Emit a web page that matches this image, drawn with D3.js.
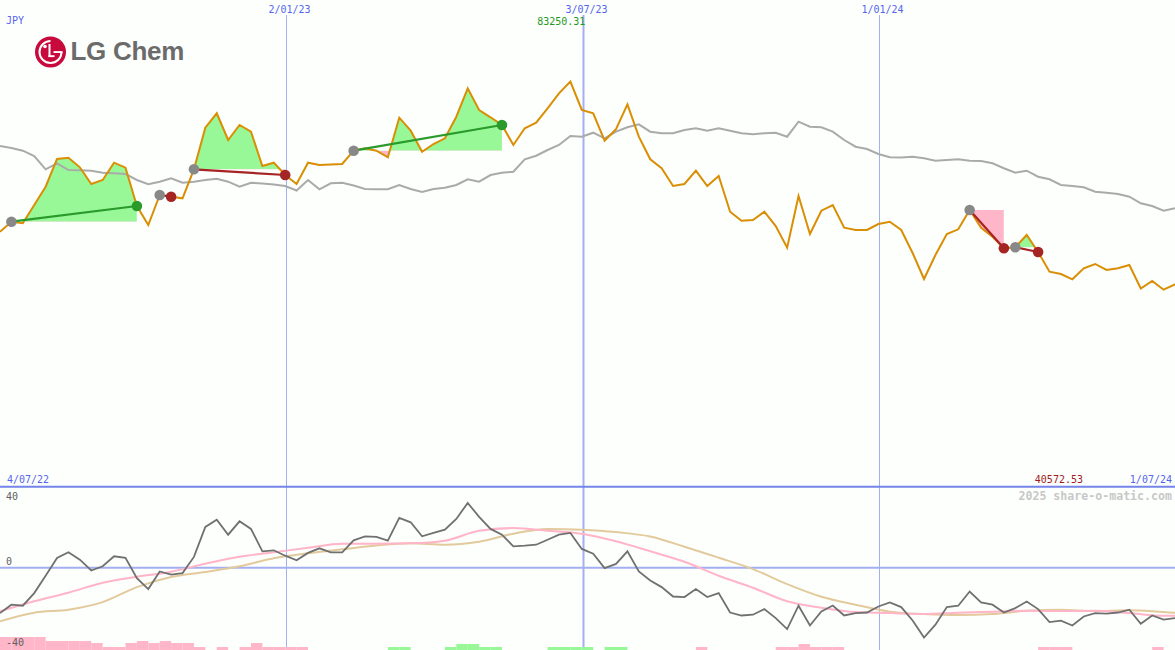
<!DOCTYPE html>
<html><head><meta charset="utf-8">
<script src="https://cdn.jsdelivr.net/npm/d3@7"></script>
<style>body{margin:0;background:#fdfffd}svg{display:block}</style>
</head><body><svg id="c" width="1175" height="650"></svg>
<script>
// ---------- data ----------
const startDate = "2022-07-11"; // first weekly point
const currency = "JPY";
const company = "LG Chem";
const watermark = "2025 share-o-matic.com";
const periodStartLabel = "4/07/22";
const periodEndLabel = "1/07/24";
const gridDates = ["2023-01-02", "2023-07-03", "2024-01-01"];
const gridLabels = ["2/01/23", "3/07/23", "1/01/24"];
const oscTicks = [40, 0, -40];

const prices = [52470, 54520, 54200, 57950, 61700, 67390, 67650, 65680, 62260, 63080,
 66630, 65600, 57740, 53850, 60000, 59650, 59320, 65270, 73810, 76760,
 71280, 74360, 72990, 65950, 66630, 64100, 62260, 66630, 66150, 66260,
 66360, 69090, 69580, 69090, 67730, 75860, 73190, 68880, 70460, 71630,
 76060, 81890, 77440, 75940, 74360, 70260, 73680, 74830, 77790, 80860,
 83250.31, 77440, 76760, 71140, 73480, 78600, 71960, 67320, 65480, 61850,
 62260, 64990, 61850, 63900, 56570, 54730, 54870, 56570, 53640, 49190,
 59800, 52000, 56780, 57950, 53290, 52820, 52820, 54050, 54520, 52820,
 48100, 42770, 47690, 52000, 52960, 56920, 53290, 51450, 49070, 49270,
 51800, 48310, 44270, 43800, 42710, 44960, 45850, 44620, 44960, 45640,
 40820, 42360, 40572.53, 41680];

const movingAvg = [70050, 69640, 69090, 68000, 65270, 66500, 65130, 65070, 64990, 64570,
 64450, 64310, 63080, 62200, 62730, 63430, 62520, 62730, 63080, 63340,
 62730, 61700, 62520, 62360, 62150, 61850, 60920, 63080, 61170, 62400,
 62520, 61950, 61230, 61190, 61170, 62050, 61230, 60620, 61230, 61500,
 62050, 63220, 62730, 64100, 64570, 64780, 67320, 68060, 69230, 70260,
 72100, 71960, 72780, 71630, 72990, 73890, 74500, 72990, 72660, 72660,
 73330, 73680, 73190, 73680, 73190, 72660, 72450, 72660, 72780, 71960,
 75040, 74010, 73890, 72990, 71280, 69910, 69440, 68410, 67730, 67690,
 67860, 67530, 67040, 67180, 67320, 67040, 66970, 66500, 65480, 64570,
 64990, 63750, 63220, 62050, 61850, 61580, 60680, 60470, 60210, 59650,
 58300, 57740, 56780, 57270];

// trades: [start week index, end week index]
const tradeStarts = [1, 14, 17, 31, 85, 89];
const tradeEnds = [12, 15, 25, 44, 88, 91];

// lower panel oscillator
const osc = [-22.7, -18.5, -19, -12.7, -4, 4.9, 7.7, 4, -1.4, 0.7,
 5.7, 4.9, -5.2, -10.7, -1.9, -3.5, -2.7, 5.4, 20.4, 24,
 16.5, 23.2, 19.4, 8.2, 8.7, 6, 3.7, 7.4, 9.7, 7.7,
 7.7, 13.7, 15.7, 15.4, 13.5, 24.9, 22.7, 15.7, 17.4, 19,
 24.4, 32.4, 25.4, 19.4, 16.5, 10.7, 11, 11.5, 14, 16.5,
 17.4, 9.4, 7, -0.2, 1.9, 8.2, -1.9, -6.4, -9.7, -14.4,
 -14.7, -10.7, -14.7, -12.7, -22.4, -23.9, -23.5, -20.7, -25.2, -30.7,
 -19, -28.9, -21.9, -18.9, -23.9, -22.7, -22.4, -19.4, -17.4, -19.7,
 -26.4, -34.9, -28.5, -19.7, -19, -11.9, -17.4, -18.5, -22.4, -20.2,
 -16.9, -20.7, -27.2, -26.5, -28.9, -24.4, -22.7, -23, -22.4, -21,
 -28, -23.9, -26, -25.2];

const signalIdx = [0,3,6,9,12,15,18,21,24,27,30,33,36,39,42,45,48,51,54,57,60,63,66,69,72,75,78,81,84,87,90,93,96,99,102,103];
const signalFast = [-21.8,-16.8,-12.5,-7.5,-4.5,-2,2,5.5,7.7,10,12,12,12.2,13.5,18.5,19.8,18.5,17,13.2,8.2,3,-4,-10,-16.8,-20,-22.2,-22.7,-23.2,-22.5,-22,-21.5,-21.7,-21.5,-22.7,-24,-24];
const signalSlow = [-26.8,-22.5,-21,-17.2,-9.7,-4.7,-2.2,0.7,4.7,7.2,9.2,11.1,12.2,11.5,13,17,19.4,19,17.8,15.6,10.5,5,-0.7,-8.2,-14.5,-18.5,-22,-23.2,-23.7,-23.2,-21.5,-21,-21.7,-21.3,-22.2,-22.5];

const histogram = [-6.5,-6.5,-6.5,-6.5,-4.5,-4.5,-4.5,-4.5,-3.5,-1.5,
 -1.5,-3.5,-4.5,-3.5,-4.5,-3.5,-3.5,-1.5,0,-1.5,
 0,-1.5,-3.5,-1.5,-1.5,-1.5,-1.5,0,0,0,
 0,0,0,0,1.5,1.5,0,0,0,1.5,
 3,3,1.5,1.5,0,0,0,0,1.5,1.5,
 1.5,1.5,0,1.5,1.5,0,0,0,0,0,
 0,-1.5,0,0,0,0,0,0,-1.5,-1.5,
 -3,-1.5,-1.5,-1.5,0,0,0,0,0,0,
 0,0,0,0,0,0,0,0,0,0,
 0,-1.5,-1.5,-1.5,0,0,0,0,0,0,
 0,-1.5,0,0];

// ---------- chart ----------
const W = 1175, H = 650;
const svg = d3.select("#c");
const defs = svg.append("defs");
const parse = d3.timeParse("%Y-%m-%d");
const t0 = parse(startDate);
const dates = prices.map((_, i) => d3.timeDay.offset(t0, 7 * i));
const x = d3.scaleTime().domain([dates[0], dates[dates.length - 1]]).range([0, W]);
const y = d3.scaleLinear().domain([0, 100000]).range([487.5, 0]);
const yLow = d3.scaleLinear().domain([-40, 40]).range([647.7, 487.7]);
const X = i => x(dates[i]);

svg.append("rect").attr("width", W).attr("height", H).attr("fill", "#fdfffd");

// vertical grid lines
gridDates.forEach((d, k) => {
  const gx = Math.round(x(parse(d))) + 1.5;
  svg.append("line").attr("x1", gx).attr("x2", gx).attr("y1", 15).attr("y2", H)
    .attr("stroke", "#a3aff0").attr("stroke-width", k === 1 ? 2 : 1);
  svg.append("text").attr("x", gx + 3).attr("y", 13).attr("text-anchor", "middle")
    .attr("font-family", "DejaVu Sans Mono, monospace").attr("font-size", 10)
    .attr("fill", "#5566ee").text(gridLabels[k]);
});

// trade fills
const area = d3.area().x(i => X(i)).y1(i => y(prices[i]));
tradeStarts.forEach((s, k) => {
  const e = tradeEnds[k];
  const lvl = y(prices[s]);
  const pts = d3.range(s, e + 1);
  const x0 = X(s), x1 = X(e);
  defs.append("clipPath").attr("id", "up" + k).append("rect")
    .attr("x", x0).attr("y", 0).attr("width", x1 - x0).attr("height", lvl);
  defs.append("clipPath").attr("id", "dn" + k).append("rect")
    .attr("x", x0).attr("y", lvl).attr("width", x1 - x0).attr("height", 487 - lvl);
  const a = area.y0(lvl)(pts);
  svg.append("path").attr("d", a).attr("fill", "#98f898").attr("clip-path", `url(#up${k})`);
  svg.append("path").attr("d", a).attr("fill", "#ffb6c8").attr("clip-path", `url(#dn${k})`);
});

// moving average
svg.append("path").datum(d3.range(movingAvg.length))
  .attr("d", d3.line().x(i => X(i)).y(i => y(movingAvg[i])))
  .attr("fill", "none").attr("stroke", "#aaaaaa").attr("stroke-width", 2);

// price line
svg.append("path").datum(d3.range(prices.length))
  .attr("d", d3.line().x(i => X(i)).y(i => y(prices[i])))
  .attr("fill", "none").attr("stroke", "#d98e04").attr("stroke-width", 2)
  .attr("stroke-linejoin", "miter");

// trade lines and dots
tradeStarts.forEach((s, k) => {
  const e = tradeEnds[k];
  const gain = prices[e] >= prices[s];
  const col = gain ? "#2a9a2a" : "#a52424";
  svg.append("line").attr("x1", X(s)).attr("y1", y(prices[s])).attr("x2", X(e)).attr("y2", y(prices[e]))
    .attr("stroke", col).attr("stroke-width", 2.2);
  svg.append("circle").attr("cx", X(s)).attr("cy", y(prices[s])).attr("r", 5.3).attr("fill", "#888888");
  svg.append("circle").attr("cx", X(e)).attr("cy", y(prices[e])).attr("r", 5.3).attr("fill", col);
});

// max / min labels
const maxI = d3.maxIndex(prices);
const fmt = d3.format(".2f");
svg.append("text").attr("x", X(maxI) + 15).attr("y", 25).attr("text-anchor", "end")
  .attr("font-family", "DejaVu Sans Mono, monospace").attr("font-size", 10)
  .attr("fill", "#1e9a1e").text(fmt(d3.max(prices)));

// top-left texts
svg.append("text").attr("x", 6).attr("y", 24).attr("font-family", "DejaVu Sans Mono, monospace")
  .attr("font-size", 10).attr("fill", "#5566ee").text(currency);

// logo
const logo = svg.append("g").attr("transform", "translate(50.5,52)");
logo.append("circle").attr("r", 15.5).attr("fill", "#c8093c");
logo.append("path").attr("d", d3.arc()({innerRadius: 10, outerRadius: 12, startAngle: Math.PI / 2, endAngle: 2 * Math.PI}))
  .attr("fill", "#fff");
logo.append("rect").attr("x", 3).attr("y", -0.9).attr("width", 9).attr("height", 1.9).attr("fill", "#fff");
logo.append("rect").attr("x", -2).attr("y", -8).attr("width", 2).attr("height", 13).attr("fill", "#fff");
logo.append("rect").attr("x", -2).attr("y", 3.2).attr("width", 6).attr("height", 1.9).attr("fill", "#fff");
logo.append("circle").attr("cx", -5.5).attr("cy", -5.5).attr("r", 1.8).attr("fill", "#fff");
svg.append("text").attr("x", 70.5).attr("y", 59.5).attr("font-family", "Liberation Sans, Arial, sans-serif")
  .attr("font-weight", "bold").attr("font-size", 26).attr("fill", "#6b6b6b").attr("letter-spacing", -0.3)
  .text(company);

// separator + bottom labels of top panel
svg.append("line").attr("x1", 0).attr("x2", W).attr("y1", 486.7).attr("y2", 486.7)
  .attr("stroke", "#7484ea").attr("stroke-width", 2);
svg.append("text").attr("x", 7).attr("y", 483).attr("font-family", "DejaVu Sans Mono, monospace")
  .attr("font-size", 10).attr("fill", "#5566ee").text(periodStartLabel);
svg.append("text").attr("x", 1172).attr("y", 483).attr("text-anchor", "end").attr("font-family", "DejaVu Sans Mono, monospace")
  .attr("font-size", 10).attr("fill", "#5566ee").text(periodEndLabel);
svg.append("text").attr("x", 1083).attr("y", 483).attr("text-anchor", "end").attr("font-family", "DejaVu Sans Mono, monospace")
  .attr("font-size", 10).attr("fill", "#a01c1c").text(fmt(d3.min(prices)));
svg.append("text").attr("x", 1172).attr("y", 500).attr("text-anchor", "end").attr("font-family", "DejaVu Sans Mono, monospace")
  .attr("font-size", 11.6).attr("font-weight", "bold").attr("fill", "#c8c8c8").text(watermark);

// lower panel
svg.append("line").attr("x1", 0).attr("x2", W).attr("y1", yLow(0)).attr("y2", yLow(0))
  .attr("stroke", "#a3aff0").attr("stroke-width", 2);

histogram.forEach((v, k) => {
  if (!v || k + 1 >= dates.length) return;
  const h = yLow(0) - yLow(Math.abs(v));
  svg.append("rect").attr("x", X(k)).attr("width", X(k + 1) - X(k))
    .attr("y", H - h).attr("height", h).attr("fill", v > 0 ? "#98f898" : "#ffb6c8");
});

svg.append("path").datum(d3.range(signalIdx.length))
  .attr("d", d3.line().curve(d3.curveMonotoneX).x(j => X(signalIdx[j])).y(j => yLow(signalSlow[j])))
  .attr("fill", "none").attr("stroke", "#e2ca9c").attr("stroke-width", 2);
svg.append("path").datum(d3.range(signalIdx.length))
  .attr("d", d3.line().curve(d3.curveMonotoneX).x(j => X(signalIdx[j])).y(j => yLow(signalFast[j])))
  .attr("fill", "none").attr("stroke", "#ffb4c8").attr("stroke-width", 2);
svg.append("path").datum(d3.range(osc.length))
  .attr("d", d3.line().x(i => X(i)).y(i => yLow(osc[i])))
  .attr("fill", "none").attr("stroke", "#707070").attr("stroke-width", 1.8);

// oscillator tick labels
const tickY = {"40": 500, "0": 565, "-40": 646};
oscTicks.forEach(t => {
  svg.append("text").attr("x", 6).attr("y", tickY[String(t)]).attr("font-family", "DejaVu Sans Mono, monospace")
    .attr("font-size", 10).attr("fill", "#606060").text(t);
});
</script></body></html>
